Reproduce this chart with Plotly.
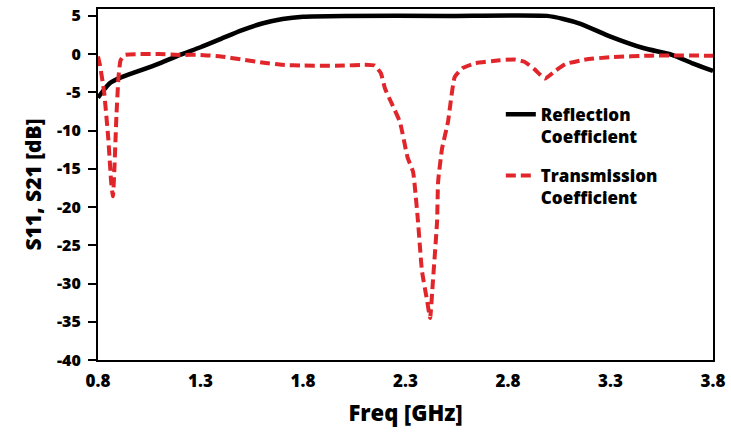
import plotly.graph_objects as go

# Reflection coefficient (black solid)
refl_f = [0.80, 0.825, 0.86, 0.907, 1.0, 1.1, 1.2, 1.3, 1.4, 1.5, 1.6, 1.7, 1.8, 2.0, 2.5, 2.99, 3.07, 3.15, 3.3, 3.46, 3.6, 3.7, 3.8]
refl_db = [-5.7, -4.8, -3.75, -3.1, -2.2, -1.2, -0.1, 0.9, 2.0, 3.1, 4.0, 4.6, 4.9, 5.0, 5.0, 5.0, 4.6, 4.0, 2.3, 0.8, -0.1, -1.2, -2.2]

# Transmission coefficient (red dashed)
trans_f = [0.80, 0.81, 0.83, 0.85, 0.865, 0.873, 0.88, 0.89, 0.90, 0.91, 0.93, 1.0, 1.1, 1.2, 1.3, 1.4, 1.5, 1.6, 1.7, 1.8, 2.0, 2.1, 2.15,
           2.18, 2.2, 2.23, 2.273, 2.31, 2.337, 2.361, 2.38, 2.405, 2.42, 2.434, 2.454, 2.459, 2.478, 2.507, 2.54, 2.58, 2.64,
           2.76, 2.83, 2.88, 2.93, 2.98, 3.03, 3.08, 3.18, 3.3, 3.5, 3.8]
trans_db = [-0.3, -1.5, -5.0, -11.0, -17.0, -18.6, -15.0, -8.0, -3.0, -0.8, -0.1, 0.0, 0.0, -0.1, -0.1, -0.3, -0.7, -1.1, -1.4, -1.5, -1.5, -1.4, -1.5,
            -2.5, -4.5, -6.3, -8.9, -13.5, -15.4, -21.9, -28.3, -32.2, -34.5, -29.6, -21.9, -16.7, -12.4, -8.9, -3.0, -1.8, -1.2,
            -0.8, -0.7, -1.0, -2.0, -3.2, -2.2, -1.3, -0.7, -0.4, -0.2, -0.2]

x_ticks = [0.8, 1.3, 1.8, 2.3, 2.8, 3.3, 3.8]
y_ticks = [-40, -35, -30, -25, -20, -15, -10, -5, 0, 5]

FONT = "Open Sans"
W = 800

fig = go.Figure()
fig.add_trace(go.Scatter(x=refl_f, y=refl_db, mode="lines", name="Reflection<br>Coefficient", legendgroup="r",
                         line=dict(color="black", width=4.5, shape="spline", smoothing=0.6)))
fig.add_trace(go.Scatter(x=trans_f, y=trans_db, mode="lines", name="Transmission<br>Coefficient", legendgroup="t",
                         line=dict(color="#e0262b", width=4, dash="10px,5px", shape="spline", smoothing=0.4)))

fig.update_layout(
    width=731, height=440,
    margin=dict(l=98, r=18, t=5, b=80),
    paper_bgcolor="white", plot_bgcolor="white",
    font=dict(family=FONT, color="black"),
    showlegend=True,
    legend=dict(x=0.655, y=0.75, xanchor="left", yanchor="top", valign="top",
                bgcolor="rgba(0,0,0,0)", font=dict(family=FONT, size=17, color="black", weight=W),
                tracegroupgap=14),
    xaxis=dict(range=[0.8, 3.8], tickvals=x_ticks, ticktext=[f"{v:.1f}" for v in x_ticks],
               showgrid=False, zeroline=False, showline=True, linecolor="black", linewidth=2, mirror=True,
               ticks="", ticklabelstandoff=5, tickfont=dict(family=FONT, size=17, weight=W),
               title=dict(text="Freq [GHz]", font=dict(family=FONT, size=22, weight=W), standoff=14)),
    yaxis=dict(range=[-40, 5.9], tickvals=y_ticks, ticktext=[str(v) for v in y_ticks],
               showgrid=False, zeroline=False,
               showline=True, linecolor="black", linewidth=2, mirror=True,
               ticks="outside", ticklen=8, tickwidth=1.5, tickcolor="black", ticklabelstandoff=4,
               tickfont=dict(family=FONT, size=16, weight=W),
               title=dict(text="S11, S21 [dB]", font=dict(family=FONT, size=21, weight=W), standoff=10)),
)

fig.write_html("out.html")
